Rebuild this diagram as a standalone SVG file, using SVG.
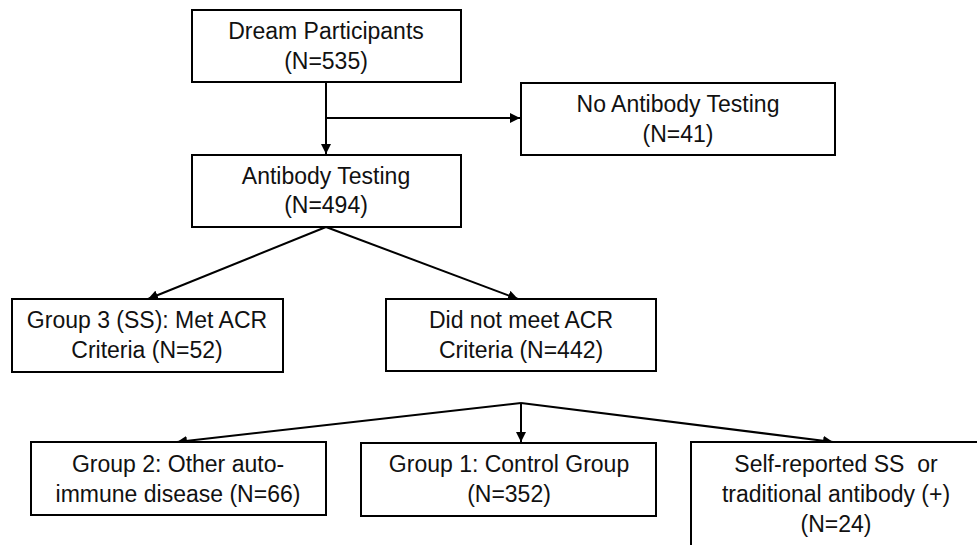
<svg xmlns="http://www.w3.org/2000/svg" width="977" height="545" viewBox="0 0 977 545">
<defs>
<style>
.box{fill:#fff;stroke:#000;stroke-width:2}
.t{font-family:"Liberation Sans",Arial,sans-serif;font-size:23px;fill:#111;text-anchor:middle}
.c{fill:none;stroke:#000;stroke-width:2}
</style>
<marker id="ah" viewBox="0 0 10 10" refX="10" refY="5" markerWidth="5" markerHeight="5" orient="auto" markerUnits="strokeWidth">
<path d="M0,0 L10,5 L0,10 z" fill="#000"/>
</marker>
</defs>
<rect width="977" height="545" fill="#fff"/>
<g id="connectors">
<line class="c" x1="326" y1="82" x2="326" y2="154" marker-end="url(#ah)"/>
<line class="c" x1="326" y1="118" x2="520" y2="118" marker-end="url(#ah)"/>
<line class="c" x1="326" y1="227" x2="148" y2="299" marker-end="url(#ah)"/>
<line class="c" x1="326" y1="227" x2="518" y2="299" marker-end="url(#ah)"/>
<line class="c" x1="521" y1="403" x2="177" y2="442" marker-end="url(#ah)"/>
<line class="c" x1="521" y1="403" x2="521" y2="442" marker-end="url(#ah)"/>
<line class="c" x1="521" y1="403" x2="833" y2="442" marker-end="url(#ah)"/>
</g>
<g id="dream">
<rect class="box" x="192" y="10" width="269" height="72"/>
<text class="t" x="326" y="39">Dream Participants</text>
<text class="t" x="326" y="69">(N=535)</text>
</g>
<g id="noab">
<rect class="box" x="521" y="83" width="314" height="72"/>
<text class="t" x="678" y="112">No Antibody Testing</text>
<text class="t" x="678" y="142">(N=41)</text>
</g>
<g id="ab">
<rect class="box" x="192" y="155" width="269" height="72"/>
<text class="t" x="326" y="184">Antibody Testing</text>
<text class="t" x="326" y="213">(N=494)</text>
</g>
<g id="g3">
<rect class="box" x="12" y="299" width="271" height="73"/>
<text class="t" x="147" y="328">Group 3 (SS): Met ACR</text>
<text class="t" x="147" y="358">Criteria (N=52)</text>
</g>
<g id="notmet">
<rect class="box" x="386" y="299" width="270" height="72"/>
<text class="t" x="521" y="328">Did not meet ACR</text>
<text class="t" x="521" y="358">Criteria (N=442)</text>
</g>
<g id="g2">
<rect class="box" x="31" y="442" width="295" height="73"/>
<text class="t" x="178" y="472">Group 2: Other auto-</text>
<text class="t" x="178" y="502">immune disease (N=66)</text>
</g>
<g id="g1">
<rect class="box" x="361" y="443" width="295" height="73"/>
<text class="t" x="509" y="472">Group 1: Control Group</text>
<text class="t" x="509" y="502">(N=352)</text>
</g>
<g id="self">
<rect class="box" x="691" y="442" width="290" height="110"/>
<text class="t" x="836" y="472" xml:space="preserve">Self-reported SS  or</text>
<text class="t" x="836" y="502">traditional antibody (+)</text>
<text class="t" x="836" y="532">(N=24)</text>
</g>
</svg>
